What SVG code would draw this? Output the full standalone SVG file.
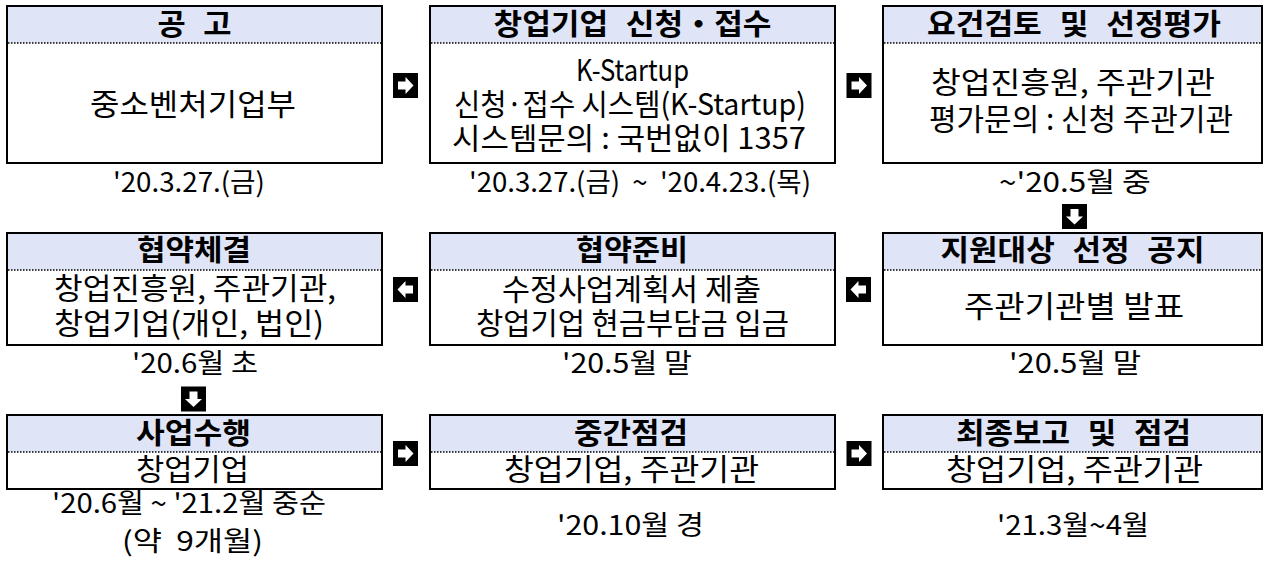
<svg xmlns="http://www.w3.org/2000/svg" width="1265" height="562" viewBox="0 0 1265 562">
<style>
text{font-family:"Noto Sans CJK KR","Noto Sans",sans-serif;fill:#000;text-anchor:middle}
.h{font-size:29px;font-weight:bold;word-spacing:10px}
.b{font-size:30px}
.d{font-size:27px}
.box{fill:#fff;stroke:#000;stroke-width:2}
.hd{fill:#dfe4f7}
.dot{stroke:#000;stroke-width:1.5;stroke-dasharray:1.5 1.5;fill:none}
</style>
<defs>
<g id="ar">
<rect x="-12.5" y="-12.5" width="25" height="25" fill="#000"/>
<polygon points="-7.5,-4 0,-4 0,-8.5 8,0 0,8.5 0,4 -7.5,4" fill="#fff"/>
</g>
</defs>

<g id="n1">
<rect class="box" x="7" y="6" width="375" height="157"/>
<rect class="hd" x="8" y="7" width="373" height="36"/>
<line class="dot" x1="8" y1="43" x2="381" y2="43"/>
<text class="h" x="194.5" y="35" textLength="74" lengthAdjust="spacingAndGlyphs">공 고</text>
<text class="b" x="193" y="115" textLength="206" lengthAdjust="spacingAndGlyphs">중소벤처기업부</text>
<text class="d" x="189" y="192" textLength="152" lengthAdjust="spacingAndGlyphs">'20.3.27.(금)</text>
</g>

<g id="n2">
<rect class="box" x="430" y="6" width="405" height="157"/>
<rect class="hd" x="431" y="7" width="403" height="36"/>
<line class="dot" x1="431" y1="43" x2="834" y2="43"/>
<text class="h" x="632.5" y="35" textLength="278" lengthAdjust="spacingAndGlyphs">창업기업 신청・접수</text>
<text class="b" x="632.5" y="81" textLength="113" lengthAdjust="spacingAndGlyphs">K-Startup</text>
<text class="b" x="630" y="115" textLength="352" lengthAdjust="spacingAndGlyphs">신청·접수 시스템(K-Startup)</text>
<text class="b" x="629" y="149" textLength="354" lengthAdjust="spacingAndGlyphs">시스템문의 : 국번없이 1357</text>
<text class="d" x="640" y="192" style="word-spacing:6px" textLength="342" lengthAdjust="spacingAndGlyphs">'20.3.27.(금) ~ '20.4.23.(목)</text>
</g>

<g id="n3">
<rect class="box" x="883" y="6" width="379" height="157"/>
<rect class="hd" x="884" y="7" width="377" height="36"/>
<line class="dot" x1="884" y1="43" x2="1261" y2="43"/>
<text class="h" x="1074" y="35" textLength="294" lengthAdjust="spacingAndGlyphs">요건검토 및 선정평가</text>
<text class="b" x="1073" y="93" textLength="284" lengthAdjust="spacingAndGlyphs">창업진흥원, 주관기관</text>
<text class="b" x="1081" y="130" textLength="304" lengthAdjust="spacingAndGlyphs">평가문의 : 신청 주관기관</text>
<text class="d" x="1075" y="192" textLength="152" lengthAdjust="spacingAndGlyphs">~'20.5월 중</text>
</g>

<g id="n4">
<rect class="box" x="883" y="233" width="379" height="112"/>
<rect class="hd" x="884" y="234" width="377" height="36"/>
<line class="dot" x1="884" y1="270" x2="1261" y2="270"/>
<text class="h" x="1072.5" y="261" textLength="264" lengthAdjust="spacingAndGlyphs">지원대상 선정 공지</text>
<text class="b" x="1074" y="317" textLength="220" lengthAdjust="spacingAndGlyphs">주관기관별 발표</text>
<text class="d" x="1075" y="373" textLength="132" lengthAdjust="spacingAndGlyphs">'20.5월 말</text>
</g>

<g id="n5">
<rect class="box" x="430" y="233" width="405" height="112"/>
<rect class="hd" x="431" y="234" width="403" height="36"/>
<line class="dot" x1="431" y1="270" x2="834" y2="270"/>
<text class="h" x="632" y="261" textLength="112" lengthAdjust="spacingAndGlyphs">협약준비</text>
<text class="b" x="631.5" y="300" textLength="259" lengthAdjust="spacingAndGlyphs">수정사업계획서 제출</text>
<text class="b" x="632.5" y="334" textLength="313" lengthAdjust="spacingAndGlyphs">창업기업 현금부담금 입금</text>
<text class="d" x="627" y="373" textLength="130" lengthAdjust="spacingAndGlyphs">'20.5월 말</text>
</g>

<g id="n6">
<rect class="box" x="7" y="233" width="375" height="112"/>
<rect class="hd" x="8" y="234" width="373" height="36"/>
<line class="dot" x1="8" y1="270" x2="381" y2="270"/>
<text class="h" x="194" y="261" textLength="114" lengthAdjust="spacingAndGlyphs">협약체결</text>
<text class="b" x="195" y="299" textLength="282" lengthAdjust="spacingAndGlyphs">창업진흥원, 주관기관,</text>
<text class="b" x="189" y="334" textLength="270" lengthAdjust="spacingAndGlyphs">창업기업(개인, 법인)</text>
<text class="d" x="195" y="373" textLength="126" lengthAdjust="spacingAndGlyphs">'20.6월 초</text>
</g>

<g id="n7">
<rect class="box" x="7" y="415" width="375" height="74"/>
<rect class="hd" x="8" y="416" width="373" height="36"/>
<line class="dot" x1="8" y1="452" x2="381" y2="452"/>
<text class="h" x="193.5" y="444" textLength="115" lengthAdjust="spacingAndGlyphs">사업수행</text>
<text class="b" x="192.5" y="480" textLength="113" lengthAdjust="spacingAndGlyphs">창업기업</text>
<text class="d" x="189" y="513" textLength="274" lengthAdjust="spacingAndGlyphs">'20.6월 ~ '21.2월 중순</text>
<text class="d" x="192.5" y="551" style="word-spacing:6px" textLength="141" lengthAdjust="spacingAndGlyphs">(약 9개월)</text>
</g>

<g id="n8">
<rect class="box" x="430" y="415" width="405" height="74"/>
<rect class="hd" x="431" y="416" width="403" height="36"/>
<line class="dot" x1="431" y1="452" x2="834" y2="452"/>
<text class="h" x="631" y="444" textLength="114" lengthAdjust="spacingAndGlyphs">중간점검</text>
<text class="b" x="631.5" y="480" textLength="255" lengthAdjust="spacingAndGlyphs">창업기업, 주관기관</text>
<text class="d" x="630.5" y="535" textLength="147" lengthAdjust="spacingAndGlyphs">'20.10월 경</text>
</g>

<g id="n9">
<rect class="box" x="883" y="415" width="379" height="74"/>
<rect class="hd" x="884" y="416" width="377" height="36"/>
<line class="dot" x1="884" y1="452" x2="1261" y2="452"/>
<text class="h" x="1073.5" y="444" textLength="235" lengthAdjust="spacingAndGlyphs">최종보고 및 점검</text>
<text class="b" x="1074.5" y="480" textLength="257" lengthAdjust="spacingAndGlyphs">창업기업, 주관기관</text>
<text class="d" x="1073" y="535" textLength="152" lengthAdjust="spacingAndGlyphs">'21.3월~4월</text>
</g>

<g id="connectors">
<use href="#ar" transform="translate(405.5,85.5)"/>
<use href="#ar" transform="translate(859,85.5)"/>
<use href="#ar" transform="translate(1074.5,216.5) rotate(90)"/>
<use href="#ar" transform="translate(858.5,289.5) rotate(180)"/>
<use href="#ar" transform="translate(405.5,289.5) rotate(180)"/>
<use href="#ar" transform="translate(193.5,399) rotate(90)"/>
<use href="#ar" transform="translate(405.5,453.5)"/>
<use href="#ar" transform="translate(859,453.5)"/>
</g>
</svg>
